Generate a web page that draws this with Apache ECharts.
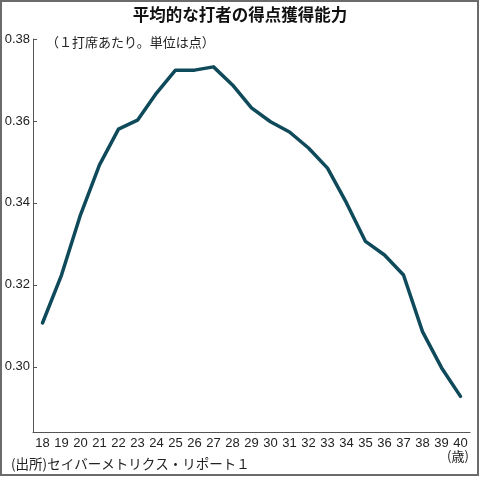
<!DOCTYPE html>
<html>
<head>
<meta charset="utf-8">
<script src="https://cdn.jsdelivr.net/npm/echarts@6/dist/echarts.min.js"></script>
<style>
  html, body { margin: 0; padding: 0; background: #fff; }
  #chart { width: 480px; height: 477px; }
</style>
</head>
<body>
<div id="chart"></div>
<script>
// ages (x categories)
const ages = ['18','19','20','21','22','23','24','25','26','27','28','29',
              '30','31','32','33','34','35','36','37','38','39','40'];
// runs per plate appearance
const runs = [0.3107, 0.3224, 0.3371, 0.3493, 0.3580, 0.3602, 0.3668, 0.3724,
              0.3724, 0.3732, 0.3688, 0.3632, 0.3598, 0.3573, 0.3534, 0.3485,
              0.3400, 0.3306, 0.3273, 0.3224, 0.3086, 0.2998, 0.2928];
const yTicks = [0.30, 0.32, 0.34, 0.36, 0.38];

const jp = '"Noto Sans CJK JP", sans-serif';
const num = '"Liberation Sans", sans-serif';

const myChart = echarts.init(document.getElementById('chart'));

myChart.setOption({
  animation: false,
  backgroundColor: '#fff',
  grid: { left: 33, right: 10, top: 39, bottom: 45 },
  graphic: [
    {
      type: 'rect', silent: true,
      shape: { x: 1, y: 1, width: 477, height: 474 },
      style: { fill: 'none', stroke: '#6b6b6b', lineWidth: 2 }
    },
    {
      type: 'text', left: 'center', top: 6,
      style: { text: '平均的な打者の得点獲得能力', font: 'bold 16.5px ' + jp, fill: '#111' }
    },
    {
      type: 'text', left: 46, top: 36,
      style: { text: '（１打席あたり。単位は点）', font: '13px ' + jp, fill: '#222' }
    },
    {
      type: 'text', left: 11, top: 457,
      style: { text: '(出所)セイバーメトリクス・リポート１', font: '13.5px ' + jp, fill: '#222' }
    },
    {
      type: 'text', left: 447, top: 450,
      style: { text: '(歳)', font: '13px ' + jp, fill: '#222' }
    }
  ],
  xAxis: {
    type: 'category',
    data: ages,
    boundaryGap: true,
    axisLine: { lineStyle: { color: '#555', width: 1 } },
    axisTick: { alignWithLabel: true, inside: true, length: 3, lineStyle: { color: '#555' } },
    axisLabel: { color: '#222', fontFamily: num, fontSize: 13, margin: 5, interval: 0 },
    splitLine: { show: false }
  },
  yAxis: {
    type: 'value',
    min: 0.2841,
    max: 0.38,
    axisLine: { show: true, lineStyle: { color: '#555', width: 1 } },
    axisTick: { show: true, inside: true, length: 4, customValues: yTicks, lineStyle: { color: '#555' } },
    axisLabel: {
      customValues: yTicks,
      color: '#222', fontFamily: num, fontSize: 13, margin: 3,
      formatter: v => v.toFixed(2)
    },
    splitLine: { show: false }
  },
  series: [{
    type: 'line',
    data: runs,
    symbol: 'none',
    lineStyle: { color: '#0f4a5b', width: 3.5, join: 'round', cap: 'round' }
  }]
});
</script>
</body>
</html>
